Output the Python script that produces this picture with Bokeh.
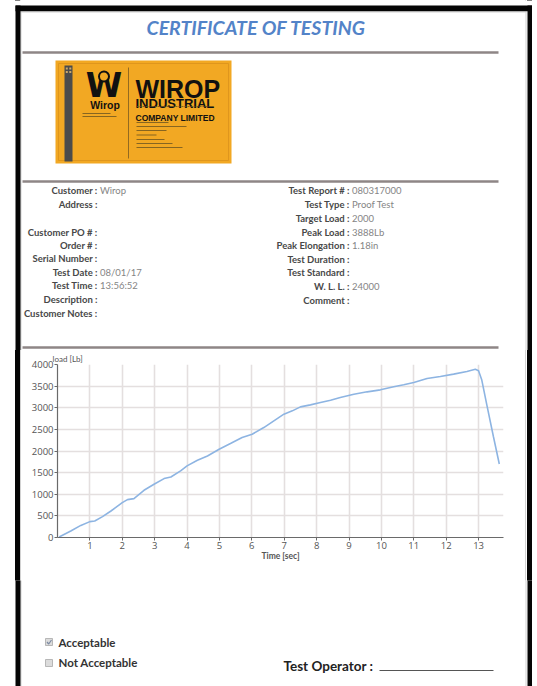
from bokeh.plotting import figure
from bokeh.layouts import column, row
from bokeh.models import Range1d, Title, FixedTicker, Spacer
from bokeh.core.properties import value
from bokeh.embed import file_html
from bokeh.resources import INLINE

# ---------------- data ----------------
time_sec = [0.05, 0.41, 0.72, 1.0, 1.15, 1.39, 1.65, 2.0, 2.16, 2.36, 2.67, 2.98, 3.29, 3.5,
            3.8, 4.0, 4.32, 4.63, 4.99, 5.34, 5.7, 6.01, 6.37, 6.68, 6.99, 7.25, 7.5, 7.81,
            8.12, 8.43, 8.73, 9.15, 9.56, 9.97, 10.38, 10.69, 11.0, 11.41, 11.82, 12.23,
            12.64, 12.9, 13.0, 13.1, 13.26, 13.46, 13.64]
load_lb = [12, 150, 280, 367, 382, 482, 613, 806, 876, 899, 1092, 1231, 1362, 1400,
           1539, 1655, 1786, 1886, 2040, 2172, 2311, 2388, 2542, 2697, 2851, 2928, 3021, 3067,
           3121, 3175, 3237, 3314, 3368, 3414, 3484, 3530, 3584, 3677, 3723, 3777,
           3839, 3888, 3854, 3640, 3050, 2330, 1700]
x_ticks = [1, 2, 3, 4, 5, 6, 7, 8, 9, 10, 11, 12, 13]
y_ticks = [0, 500, 1000, 1500, 2000, 2500, 3000, 3500, 4000]
y_axis_label = "load [Lb]"
x_axis_label = "Time [sec]"

title_text = "CERTIFICATE  OF  TESTING"
left_labels = ["Customer :", "Address :", "Customer PO # :", "Order # :", "Serial Number :",
               "Test Date :", "Test Time :", "Description :", "Customer Notes :"]
left_values = ["Wirop", "", "", "", "", "08/01/17", "13:56:52", "", ""]
right_labels = ["Test Report # :", "Test Type :", "Target Load :", "Peak Load :",
                "Peak Elongation :", "Test Duration :", "Test Standard :", "W. L. L. :",
                "Comment :"]
right_values = ["080317000", "Proof Test", "2000", "3888Lb", "1.18in", "", "", "24000", ""]
check_labels = ["Acceptable", "Not Acceptable"]
operator_label = "Test Operator :"
logo_texts = ["WIROP", "INDUSTRIAL", "COMPANY LIMITED", "Wirop"]

# ---------------- layout positions (page pixels) ----------------
left_rows_y = [190, 204, 232, 245, 258, 272, 285, 299, 313]
right_rows_y = [190, 204, 218, 232, 245, 259, 272, 286, 300]
LEFT_COLON_X = 97
RIGHT_COLON_X = 349

FONT = value("Lato")
BLACK = "#050505"
GRAY_EDGE = "#d2d2d2"


def canvas(x0, y0, w, h):
    p = figure(width=w, height=h, x_range=Range1d(x0, x0 + w), y_range=Range1d(y0 + h, y0),
               x_axis_type=None, y_axis_type=None, output_backend="svg",
               toolbar_location=None, min_border=0)
    p.outline_line_color = None
    p.background_fill_color = "white"
    p.border_fill_color = "white"
    return p


def draw_frame(p):
    p.quad(left=[20, 525, 20], right=[21, 526, 526], top=[11, 11, 11],
           bottom=[700, 700, 12], fill_color=GRAY_EDGE, line_color=None)
    p.quad(left=[15, 15, 527], right=[532, 20, 532], top=[5, 5, 5],
           bottom=[10.8, 700, 700], fill_color=BLACK, line_color=None)


def separator(p, y):
    p.quad(left=[22], right=[498], top=[y - 1.2], bottom=[y + 1.2],
           fill_color="#8e8686", line_color=None)


# ---------------- top section ----------------
top = canvas(0, 0, 532, 350)
draw_frame(top)
top.text(x=[260], y=[27], text=[title_text], text_align="center", text_baseline="middle",
         text_font=FONT, text_font_style="bold italic", text_font_size="19.5px",
         text_color="#5383c8")
separator(top, 52)
separator(top, 181)
separator(top, 347)

# logo
top.quad(left=[55], right=[231], top=[60], bottom=[163], fill_color="#f2a823", line_color=None)
top.quad(left=[58], right=[228], top=[63], bottom=[160], fill_color=None,
         line_color="#d9921c", line_width=0.8)
top.quad(left=[64], right=[72], top=[65], bottom=[161], fill_color="#4b4b4b", line_color=None)
top.quad(left=[65.3, 68.8, 65.3, 68.8], right=[67.3, 70.8, 67.3, 70.8],
         top=[67, 67, 70.5, 70.5], bottom=[69, 69, 72.5, 72.5],
         fill_color="#caa76a", line_color=None)
top.text(x=[103.5], y=[85], text=["W"], text_align="center", text_baseline="middle",
         text_font=value("DejaVu Sans"), text_font_style="bold", text_font_size="33px",
         text_color="#111111")
top.scatter(x=[103.5], y=[76], size=10, marker="circle", fill_color="#f2a823",
            line_color="#111111", line_width=2)
top.text(x=[104.5], y=[104], text=[logo_texts[3]], text_align="center", text_baseline="middle",
         text_font=value("Liberation Sans"), text_font_style="bold", text_font_size="10.5px",
         text_color="#111111")
top.segment(x0=[82, 82], y0=[113, 116], x1=[110, 116], y1=[113, 116],
            line_color="#6b5420", line_width=0.8)
top.segment(x0=[128], y0=[67], x1=[128], y1=[158], line_color="#7a5a20", line_width=0.8)
top.text(x=[135], y=[88.5], text=[logo_texts[0]], text_align="left", text_baseline="alphabetic",
         text_font=value("Liberation Sans"), text_font_style="bold", text_font_size="25px",
         text_color="#111111")
top.text(x=[135], y=[103], text=[logo_texts[1]], text_align="left", text_baseline="alphabetic",
         text_font=value("Liberation Sans"), text_font_style="bold", text_font_size="13px",
         text_color="#111111")
top.segment(x0=[136], y0=[106], x1=[213], y1=[106], line_color="#6b5420", line_width=0.8,
            line_dash="2 1")
top.text(x=[135], y=[117], text=[logo_texts[2]], text_align="left", text_baseline="alphabetic",
         text_font=value("Liberation Sans"), text_font_style="bold", text_font_size="8.5px",
         text_color="#111111")
addr_y = [122, 126, 130, 134.5, 139, 143, 147]
addr_x1 = [168, 186, 166, 156, 164, 172, 182]
top.segment(x0=[136] * len(addr_y), y0=addr_y, x1=addr_x1, y1=addr_y,
            line_color="#6b5420", line_width=0.8)

# info fields
top.text(x=[LEFT_COLON_X] * len(left_labels), y=left_rows_y, text=left_labels,
         text_align="right", text_baseline="middle", text_font=FONT,
         text_font_style="bold", text_font_size="9.5px", text_color="#484848")
top.text(x=[LEFT_COLON_X + 2.5] * len(left_values), y=left_rows_y, text=left_values,
         text_align="left", text_baseline="middle", text_font=FONT,
         text_font_size="9.5px", text_color="#858585")
top.text(x=[RIGHT_COLON_X] * len(right_labels), y=right_rows_y, text=right_labels,
         text_align="right", text_baseline="middle", text_font=FONT,
         text_font_style="bold", text_font_size="9.5px", text_color="#484848")
top.text(x=[RIGHT_COLON_X + 2.5] * len(right_values), y=right_rows_y, text=right_values,
         text_align="left", text_baseline="middle", text_font=FONT,
         text_font_size="9.5px", text_color="#858585")

# ---------------- chart ----------------
c = figure(width=504, height=230, x_range=Range1d(0, 13.77), y_range=Range1d(0, 4000),
           output_backend="svg", toolbar_location=None,
           min_border_left=36, min_border_right=22, min_border_top=14, min_border_bottom=43)
c.background_fill_color = "white"
c.border_fill_color = "white"
c.outline_line_color = None
c.title.text = y_axis_label
c.title.align = "left"
c.title.offset = -5
c.title.standoff = 2
c.title.text_font = "Lato"
c.title.text_font_style = "normal"
c.title.text_font_size = "8px"
c.title.text_color = "#555555"
c.xaxis.ticker = FixedTicker(ticks=x_ticks)
c.yaxis.ticker = FixedTicker(ticks=y_ticks)
c.xgrid.ticker = FixedTicker(ticks=[0] + x_ticks)
c.ygrid.ticker = FixedTicker(ticks=y_ticks)
c.grid.grid_line_color = "#e4dfdf"
c.grid.grid_line_width = 1.6
for ax in (c.xaxis[0], c.yaxis[0]):
    ax.axis_line_color = "#6a6a6a"
    ax.axis_line_width = 1.2
    ax.major_tick_line_color = "#6a6a6a"
    ax.major_tick_out = 3
    ax.major_tick_in = 0
    ax.minor_tick_line_color = None
    ax.major_label_text_font = "Open Sans"
    ax.major_label_text_font_size = "9.5px"
    ax.major_label_text_color = "#555555"
c.xaxis.major_label_standoff = 1
c.yaxis.major_label_standoff = 1
c.line(time_sec, load_lb, line_color="#8db4e2", line_width=1.6)
c.add_layout(Title(text=x_axis_label, align="center", offset=-18, standoff=-6,
                   text_font="Lato", text_font_style="bold", text_font_size="8.5px",
                   text_color="#555555"), "below")

H_MID = 230
band_bg = ("linear-gradient(to right, #ffffff 0px, #ffffff 15px, #050505 15px, #050505 20px, "
           "#d2d2d2 20px, #d2d2d2 21px, #ffffff 21px, #ffffff 525px, #d2d2d2 525px, "
           "#d2d2d2 526px, #ffffff 526px, #ffffff 527px, #050505 527px, #050505 532px, "
           "#ffffff 532px)")
middle = row(Spacer(width=21, height=H_MID), c, Spacer(width=7, height=H_MID),
             styles={"background": band_bg})

# ---------------- bottom ----------------
bottom = canvas(0, 580, 532, 106)
draw_frame(bottom)
bottom.quad(left=[45, 45], right=[52, 52], top=[638, 659], bottom=[645, 666],
            fill_color="#dcdcdc", line_color="#a8a8a8", line_width=0.8)
bottom.line(x=[46.5, 48.2, 51], y=[641.5, 643.5, 639.5], line_color="#7d8ba3", line_width=1.2)
bottom.text(x=[58, 58], y=[641.5, 662], text=check_labels, text_align="left",
            text_baseline="middle", text_font=FONT, text_font_style="bold",
            text_font_size="11.5px", text_color="#333333")
bottom.text(x=[283], y=[665], text=[operator_label], text_align="left",
            text_baseline="middle", text_font=FONT, text_font_style="bold",
            text_font_size="13.5px", text_color="#222222")
bottom.segment(x0=[379], y0=[670], x1=[493], y1=[670], line_color="#555555", line_width=1)

layout = column(top, middle, bottom, styles={"background": band_bg})
open("out.html", "w").write(file_html(layout, INLINE))
